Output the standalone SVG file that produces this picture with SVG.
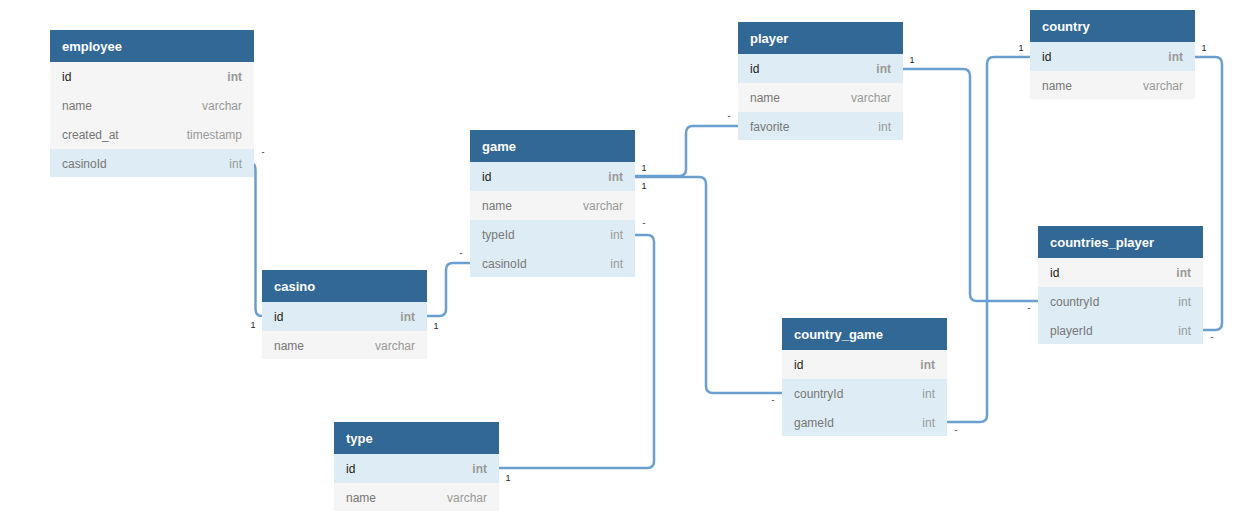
<svg xmlns="http://www.w3.org/2000/svg" width="1253" height="525" viewBox="0 0 1253 525">
<style>
.hd{fill:#316896}
.ht{fill:#ffffff;font-family:"Liberation Sans",Arial,sans-serif;font-size:13px;font-weight:bold}
.rb{fill:#deedf5}
.rg{fill:#f5f5f5}
.fn{fill:#777777;font-family:"Liberation Sans",Arial,sans-serif;font-size:12px}
.pk{fill:#222222}
.ft{fill:#999999;font-family:"Liberation Sans",Arial,sans-serif;font-size:12px;text-anchor:end}
.ftb{font-weight:bold}
.ln{fill:none;stroke:#6a9fd0;stroke-width:2.5}
.lb{fill:#222222;font-family:"Liberation Sans",Arial,sans-serif;font-size:9px;text-anchor:middle}
</style>
<rect width="1253" height="525" fill="#ffffff"/>
<g id="connectors">
<path class="ln" d="M 253 164 Q 255.5 164 255.5 171 V 309 Q 255.5 316 262 316"/>
<path class="ln" d="M 427 316 H 439 Q 446 316 446 309 V 270 Q 446 263 453 263 H 470"/>
<path class="ln" d="M 635 176 H 679 Q 686 176 686 169 V 133 Q 686 126 693 126 H 738"/>
<path class="ln" d="M 635 177 H 699 Q 706 177 706 184 V 386 Q 706 393 713 393 H 782"/>
<path class="ln" d="M 635 235 H 647 Q 654 235 654 242 V 461 Q 654 468 647 468 H 499"/>
<path class="ln" d="M 903 69 H 963 Q 970 69 970 76 V 294 Q 970 301 977 301 H 1038"/>
<path class="ln" d="M 1030 57 H 994 Q 987 57 987 64 V 415 Q 987 422 980 422 H 947"/>
<path class="ln" d="M 1195 57 H 1215 Q 1222 57 1222 64 V 323 Q 1222 330 1215 330 H 1203"/>
<text class="lb" x="263" y="155">-</text><text class="lb" x="253" y="328">1</text>
<text class="lb" x="436" y="329">1</text><text class="lb" x="461" y="256">-</text>
<text class="lb" x="644" y="171">1</text><text class="lb" x="729" y="119">-</text>
<text class="lb" x="644" y="189">1</text><text class="lb" x="773" y="403">-</text>
<text class="lb" x="644" y="226">-</text><text class="lb" x="508" y="481">1</text>
<text class="lb" x="912" y="63">1</text><text class="lb" x="1029" y="311">-</text>
<text class="lb" x="1021" y="51">1</text><text class="lb" x="956" y="433">-</text>
<text class="lb" x="1204" y="51">1</text><text class="lb" x="1212" y="340">-</text>
</g>
<g id="employee">
<rect class="hd" x="50" y="30" width="204" height="32"/>
<text class="ht" x="62" y="51">employee</text>
<rect class="rg" x="50" y="62" width="204" height="29"/>
<text class="fn pk" x="62" y="81">id</text><text class="ft ftb" x="242" y="81">int</text>
<rect class="rg" x="50" y="91" width="204" height="29"/>
<text class="fn" x="62" y="110">name</text><text class="ft" x="242" y="110">varchar</text>
<rect class="rg" x="50" y="120" width="204" height="29"/>
<text class="fn" x="62" y="139">created_at</text><text class="ft" x="242" y="139">timestamp</text>
<rect class="rb" x="50" y="149" width="204" height="28"/>
<text class="fn" x="62" y="168">casinoId</text><text class="ft" x="242" y="168">int</text>
</g>
<g id="casino">
<rect class="hd" x="262" y="270" width="165" height="32"/>
<text class="ht" x="274" y="291">casino</text>
<rect class="rb" x="262" y="302" width="165" height="29"/>
<text class="fn pk" x="274" y="321">id</text><text class="ft ftb" x="415" y="321">int</text>
<rect class="rg" x="262" y="331" width="165" height="28"/>
<text class="fn" x="274" y="350">name</text><text class="ft" x="415" y="350">varchar</text>
</g>
<g id="game">
<rect class="hd" x="470" y="130" width="165" height="32"/>
<text class="ht" x="482" y="151">game</text>
<rect class="rb" x="470" y="162" width="165" height="29"/>
<text class="fn pk" x="482" y="181">id</text><text class="ft ftb" x="623" y="181">int</text>
<rect class="rg" x="470" y="191" width="165" height="29"/>
<text class="fn" x="482" y="210">name</text><text class="ft" x="623" y="210">varchar</text>
<rect class="rb" x="470" y="220" width="165" height="29"/>
<text class="fn" x="482" y="239">typeId</text><text class="ft" x="623" y="239">int</text>
<rect class="rb" x="470" y="249" width="165" height="28"/>
<text class="fn" x="482" y="268">casinoId</text><text class="ft" x="623" y="268">int</text>
</g>
<g id="player">
<rect class="hd" x="738" y="22" width="165" height="32"/>
<text class="ht" x="750" y="43">player</text>
<rect class="rb" x="738" y="54" width="165" height="29"/>
<text class="fn pk" x="750" y="73">id</text><text class="ft ftb" x="891" y="73">int</text>
<rect class="rg" x="738" y="83" width="165" height="29"/>
<text class="fn" x="750" y="102">name</text><text class="ft" x="891" y="102">varchar</text>
<rect class="rb" x="738" y="112" width="165" height="28"/>
<text class="fn" x="750" y="131">favorite</text><text class="ft" x="891" y="131">int</text>
</g>
<g id="country">
<rect class="hd" x="1030" y="10" width="165" height="32"/>
<text class="ht" x="1042" y="31">country</text>
<rect class="rb" x="1030" y="42" width="165" height="29"/>
<text class="fn pk" x="1042" y="61">id</text><text class="ft ftb" x="1183" y="61">int</text>
<rect class="rg" x="1030" y="71" width="165" height="28"/>
<text class="fn" x="1042" y="90">name</text><text class="ft" x="1183" y="90">varchar</text>
</g>
<g id="countries_player">
<rect class="hd" x="1038" y="226" width="165" height="32"/>
<text class="ht" x="1050" y="247">countries_player</text>
<rect class="rg" x="1038" y="258" width="165" height="29"/>
<text class="fn pk" x="1050" y="277">id</text><text class="ft ftb" x="1191" y="277">int</text>
<rect class="rb" x="1038" y="287" width="165" height="29"/>
<text class="fn" x="1050" y="306">countryId</text><text class="ft" x="1191" y="306">int</text>
<rect class="rb" x="1038" y="316" width="165" height="28"/>
<text class="fn" x="1050" y="335">playerId</text><text class="ft" x="1191" y="335">int</text>
</g>
<g id="country_game">
<rect class="hd" x="782" y="318" width="165" height="32"/>
<text class="ht" x="794" y="339">country_game</text>
<rect class="rg" x="782" y="350" width="165" height="29"/>
<text class="fn pk" x="794" y="369">id</text><text class="ft ftb" x="935" y="369">int</text>
<rect class="rb" x="782" y="379" width="165" height="29"/>
<text class="fn" x="794" y="398">countryId</text><text class="ft" x="935" y="398">int</text>
<rect class="rb" x="782" y="408" width="165" height="28"/>
<text class="fn" x="794" y="427">gameId</text><text class="ft" x="935" y="427">int</text>
</g>
<g id="type">
<rect class="hd" x="334" y="422" width="165" height="32"/>
<text class="ht" x="346" y="443">type</text>
<rect class="rb" x="334" y="454" width="165" height="29"/>
<text class="fn pk" x="346" y="473">id</text><text class="ft ftb" x="487" y="473">int</text>
<rect class="rg" x="334" y="483" width="165" height="28"/>
<text class="fn" x="346" y="502">name</text><text class="ft" x="487" y="502">varchar</text>
</g>
</svg>
